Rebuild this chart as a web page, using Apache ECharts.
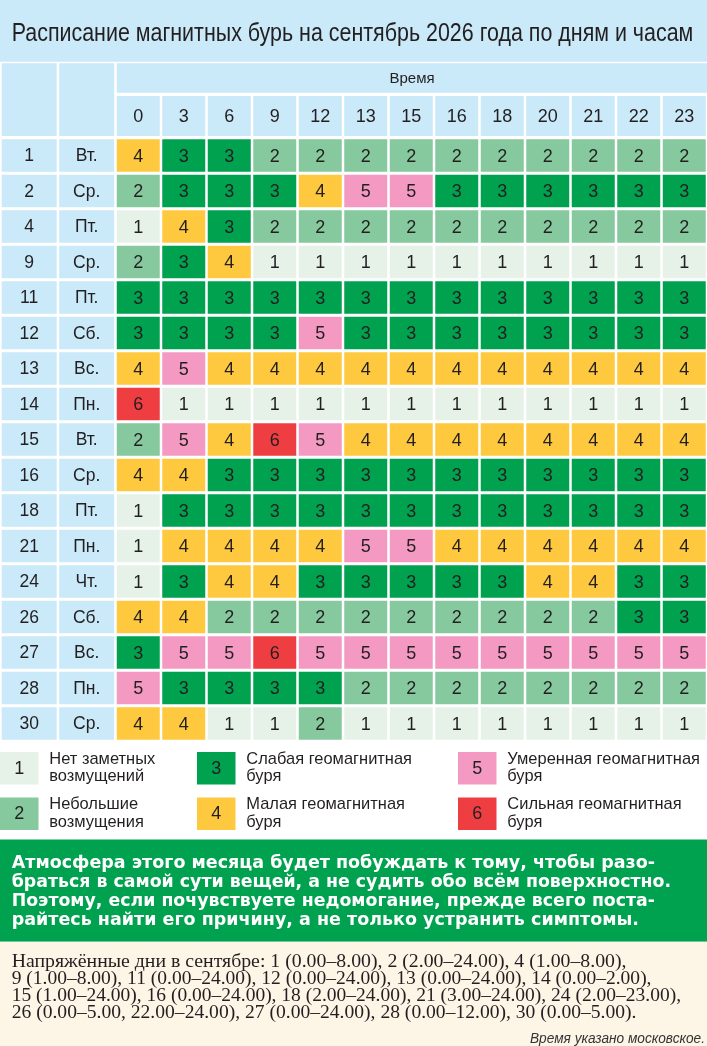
<!DOCTYPE html>
<html>
<head>
<meta charset="utf-8">
<title>Расписание магнитных бурь на сентябрь 2026</title>
<script src="https://cdn.jsdelivr.net/npm/echarts@6/dist/echarts.min.js"></script>
<style>
    html, body { margin: 0; padding: 0; background: #fff; }
    #chart { width: 707px; height: 1046px; }
</style>
</head>
<body>
<div id="chart"></div>
<script>
// ---- данные ----
var hours = ['0', '3', '6', '9', '12', '13', '15', '16', '18', '20', '21', '22', '23'];
var days = ['1', '2', '4', '9', '11', '12', '13', '14', '15', '16', '18', '21', '24', '26', '27', '28', '30'];
var weekdays = ['Вт.', 'Ср.', 'Пт.', 'Ср.', 'Пт.', 'Сб.', 'Вс.', 'Пн.', 'Вт.', 'Ср.', 'Пт.', 'Пн.', 'Чт.', 'Сб.', 'Вс.', 'Пн.', 'Ср.'];
// уровень бури по часам, одна строка на день
var levels = [
    [4, 3, 3, 2, 2, 2, 2, 2, 2, 2, 2, 2, 2], // 1
    [2, 3, 3, 3, 4, 5, 5, 3, 3, 3, 3, 3, 3], // 2
    [1, 4, 3, 2, 2, 2, 2, 2, 2, 2, 2, 2, 2], // 4
    [2, 3, 4, 1, 1, 1, 1, 1, 1, 1, 1, 1, 1], // 9
    [3, 3, 3, 3, 3, 3, 3, 3, 3, 3, 3, 3, 3], // 11
    [3, 3, 3, 3, 5, 3, 3, 3, 3, 3, 3, 3, 3], // 12
    [4, 5, 4, 4, 4, 4, 4, 4, 4, 4, 4, 4, 4], // 13
    [6, 1, 1, 1, 1, 1, 1, 1, 1, 1, 1, 1, 1], // 14
    [2, 5, 4, 6, 5, 4, 4, 4, 4, 4, 4, 4, 4], // 15
    [4, 4, 3, 3, 3, 3, 3, 3, 3, 3, 3, 3, 3], // 16
    [1, 3, 3, 3, 3, 3, 3, 3, 3, 3, 3, 3, 3], // 18
    [1, 4, 4, 4, 4, 5, 5, 4, 4, 4, 4, 4, 4], // 21
    [1, 3, 4, 4, 3, 3, 3, 3, 3, 4, 4, 3, 3], // 24
    [4, 4, 2, 2, 2, 2, 2, 2, 2, 2, 2, 3, 3], // 26
    [3, 5, 5, 6, 5, 5, 5, 5, 5, 5, 5, 5, 5], // 27
    [5, 3, 3, 3, 3, 2, 2, 2, 2, 2, 2, 2, 2], // 28
    [4, 4, 1, 1, 2, 1, 1, 1, 1, 1, 1, 1, 1]  // 30
];
var legendLevels = [1, 2, 3, 4, 5, 6];
var legendNames = [
    'Нет заметных\nвозмущений',
    'Небольшие\nвозмущения',
    'Слабая геомагнитная\nбуря',
    'Малая геомагнитная\nбуря',
    'Умеренная геомагнитная\nбуря',
    'Сильная геомагнитная\nбуря'
];

var titleText = 'Расписание магнитных бурь на сентябрь 2026 года по дням и часам';
var noteLines = [
    'Атмосфера этого месяца будет побуждать к тому, чтобы разо-',
    'браться в самой сути вещей, а не судить обо всём поверхностно.',
    'Поэтому, если почувствуете недомогание, прежде всего поста-',
    'райтесь найти его причину, а не только устранить симптомы.'
];
var tenseLines = [
    'Напряжённые дни в сентябре: 1 (0.00–8.00), 2 (2.00–24.00), 4 (1.00–8.00),',
    '9 (1.00–8.00), 11 (0.00–24.00), 12 (0.00–24.00), 13 (0.00–24.00), 14 (0.00–2.00),',
    '15 (1.00–24.00), 16 (0.00–24.00), 18 (2.00–24.00), 21 (3.00–24.00), 24 (2.00–23.00),',
    '26 (0.00–5.00, 22.00–24.00), 27 (0.00–24.00), 28 (0.00–12.00), 30 (0.00–5.00).'
];
var footText = 'Время указано московское.';

// ---- оформление ----
var levelColors = { 1: '#e6f2e8', 2: '#86c99e', 3: '#00a14f', 4: '#fec93f', 5: '#f49ac2', 6: '#ef3e42' };
var headBlue = '#cae9f9';
var inkColor = '#231f20';
var sansFont = '"Liberation Sans", Arial, sans-serif';
var gapX = 2.5, gapY = 3;
// правые края строк текстовых блоков (по оригиналу)
var noteEnds = [655, 671, 655, 639];
var tenseEnds = [626.5, 651.5, 681, 636.5];

// измерение ширины текста, чтобы подогнать узкие шрифты оригинала
var measureCtx = document.createElement('canvas').getContext('2d');
function fitScale(str, font, target) {
    measureCtx.font = font;
    return target / measureCtx.measureText(str).width;
}

// ячейка таблицы
function cellRender(fillFn, textFn, fontSize) {
    return function (params, api) {
        var c = api.coord([api.value(0), api.value(1)]);
        var s = api.size([1, 1]);
        var w = s[0] - gapX, h = s[1] - gapY;
        return {
            type: 'group',
            children: [{
                type: 'rect',
                shape: { x: c[0] - w / 2, y: c[1] - h / 2, width: w, height: h },
                style: { fill: fillFn(params.dataIndex) }
            }, {
                type: 'text',
                x: c[0],
                y: c[1] + 1,
                style: {
                    text: textFn(params.dataIndex),
                    fontSize: fontSize,
                    fontFamily: sansFont,
                    fill: inkColor,
                    align: 'center',
                    verticalAlign: 'middle'
                }
            }]
        };
    };
}

function chartRender() {
    var chart = echarts.init(document.getElementById('chart'), null, { renderer: 'canvas' });

    // данные для ячеек
    var cellData = [];
    for (var r = 0; r < days.length; r++) {
        for (var c = 0; c < hours.length; c++) {
            cellData.push([c, r, levels[r][c]]);
        }
    }
    var labelData = [];
    for (var i = 0; i < days.length; i++) {
        labelData.push([0, i]);
        labelData.push([1, i]);
    }
    var headData = hours.map(function (h, k) { return [k, 0]; });

    // графика: заголовок, шапка, легенда, текстовые блоки
    var graphic = [];
    graphic.push({ type: 'rect', shape: { x: 0, y: 0, width: 707, height: 61.7 }, style: { fill: headBlue } });
    var titleFont = '25px ' + sansFont;
    graphic.push({
        type: 'text', x: 11.7, y: 34.5,
        scaleX: fitScale(titleText, titleFont, 681.6),
        style: { text: titleText, font: titleFont, fill: inkColor, verticalAlign: 'middle' }
    });
    // пустые ячейки шапки и полоса «Время»
    graphic.push({ type: 'rect', shape: { x: 1.7, y: 63.3, width: 55, height: 72.7 }, style: { fill: headBlue } });
    graphic.push({ type: 'rect', shape: { x: 59.2, y: 63.3, width: 55, height: 72.7 }, style: { fill: headBlue } });
    graphic.push({ type: 'rect', shape: { x: 116.75, y: 63.3, width: 590.25, height: 29.4 }, style: { fill: headBlue } });
    graphic.push({
        type: 'text', x: 412, y: 79,
        style: { text: 'Время', font: '15px ' + sansFont, fill: inkColor, align: 'center', verticalAlign: 'middle' }
    });

    // легенда: три колонки по два уровня
    var legColX = [0, 197, 458];
    var legRowY = [752, 797.5];
    var legFont = '17px ' + sansFont;
    var legScale = fitScale('Умеренная геомагнитная', legFont, 192.7);
    legendLevels.forEach(function (lvl, k) {
        var cx = legColX[Math.floor(k / 2)], cy = legRowY[k % 2];
        graphic.push({ type: 'rect', shape: { x: cx, y: cy, width: 38.5, height: 32.5 }, style: { fill: levelColors[lvl] } });
        graphic.push({
            type: 'text', x: cx + 19.25, y: cy + 17,
            style: { text: String(lvl), font: '18px ' + sansFont, fill: inkColor, align: 'center', verticalAlign: 'middle' }
        });
        graphic.push({
            type: 'text', x: cx + 49.3, y: cy + 15.8,
            scaleX: legScale,
            style: { text: legendNames[k], font: legFont, lineHeight: 17.2, fill: inkColor, verticalAlign: 'middle' }
        });
    });

    // зелёный блок
    graphic.push({ type: 'rect', shape: { x: 0, y: 839.5, width: 707, height: 102.2 }, style: { fill: '#00a14f' } });
    var noteFont = 'bold 17px "DejaVu Sans", sans-serif';
    noteLines.forEach(function (line, k) {
        graphic.push({
            type: 'text', x: 11.7, y: 864 + k * 18.7,
            scaleX: fitScale(line, noteFont, noteEnds[k] - 11.7),
            style: { text: line, font: noteFont, fill: '#ffffff', verticalAlign: 'middle' }
        });
    });

    // бежевый блок
    graphic.push({ type: 'rect', shape: { x: 0, y: 941.7, width: 707, height: 104.3 }, style: { fill: '#fdf6e7' } });
    var tenseFont = '19px "Liberation Serif", "Times New Roman", serif';
    tenseLines.forEach(function (line, k) {
        graphic.push({
            type: 'text', x: 11.7, y: 962.5 + k * 17,
            scaleX: fitScale(line, tenseFont, tenseEnds[k] - 11.7),
            style: { text: line, font: tenseFont, fill: inkColor, verticalAlign: 'middle' }
        });
    });
    var footFont = 'italic 14px ' + sansFont;
    graphic.push({
        type: 'text', x: 705, y: 1039.5,
        scaleX: fitScale(footText, footFont, 175),
        style: { text: footText, font: footFont, fill: '#333333', align: 'right', verticalAlign: 'middle' }
    });

    var option = {
        animation: false,
        backgroundColor: '#ffffff',
        grid: [
            { left: 115.5, top: 137.8, width: 591.5, height: 603.5 },  // ячейки
            { left: 0.45, top: 137.8, width: 115, height: 603.5 },     // число и день недели
            { left: 115.5, top: 94.5, width: 591.5, height: 43 }       // часы
        ],
        xAxis: [
            { gridIndex: 0, type: 'category', data: hours, show: false },
            { gridIndex: 1, type: 'category', data: ['day', 'wd'], show: false },
            { gridIndex: 2, type: 'category', data: hours, show: false }
        ],
        yAxis: [
            { gridIndex: 0, type: 'category', data: days, inverse: true, show: false },
            { gridIndex: 1, type: 'category', data: days, inverse: true, show: false },
            { gridIndex: 2, type: 'category', data: ['h'], show: false }
        ],
        graphic: graphic,
        series: [{
            type: 'custom',
            silent: true,
            xAxisIndex: 0, yAxisIndex: 0,
            data: cellData,
            renderItem: cellRender(
                function (idx) { return levelColors[cellData[idx][2]]; },
                function (idx) { return String(cellData[idx][2]); },
                18
            )
        }, {
            type: 'custom',
            silent: true,
            xAxisIndex: 1, yAxisIndex: 1,
            data: labelData,
            renderItem: cellRender(
                function () { return headBlue; },
                function (idx) {
                    var d = labelData[idx];
                    return d[0] === 0 ? days[d[1]] : weekdays[d[1]];
                },
                17.5
            )
        }, {
            type: 'custom',
            silent: true,
            xAxisIndex: 2, yAxisIndex: 2,
            data: headData,
            renderItem: cellRender(
                function () { return headBlue; },
                function (idx) { return hours[headData[idx][0]]; },
                18
            )
        }]
    };
    chart.setOption(option);
}

chartRender();
</script>
</body>
</html>
